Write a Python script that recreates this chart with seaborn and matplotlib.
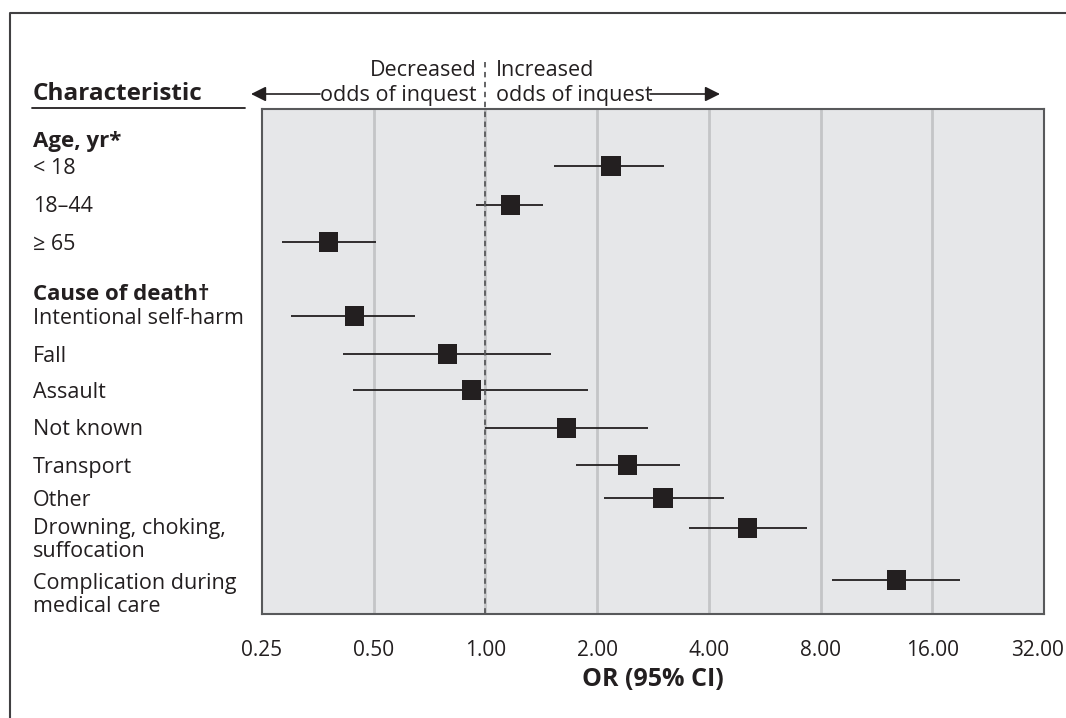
"""Forest plot: odds of inquest by characteristic."""

import matplotlib

matplotlib.use("Agg")
import matplotlib.pyplot as plt
from matplotlib.lines import Line2D
from matplotlib.patches import FancyArrowPatch
from matplotlib.transforms import ScaledTranslation
import pandas as pd
import seaborn as sns

# data
labels = [
    "< 18", "18\u201344", "\u2265 65",
    "Intentional self-harm", "Fall", "Assault", "Not known", "Transport",
    "Other", "Drowning, choking,\nsuffocation", "Complication during\nmedical care",
]
odds_ratio = [2.18, 1.17, 0.378, 0.444, 0.79, 0.917, 1.65, 2.42, 3.01, 5.09, 12.8]
ci_low = [1.53, 0.945, 0.283, 0.30, 0.413, 0.441, 1.00, 1.75, 2.09, 3.54, 8.57]
ci_high = [3.03, 1.43, 0.506, 0.644, 1.50, 1.89, 2.74, 3.34, 4.39, 7.34, 19.0]
tick_values = [0.25, 0.5, 1, 2, 4, 8, 16, 32]
tick_labels = ["0.25", "0.50", "1.00", "2.00", "4.00", "8.00", "16.00", "32.00"]

# layout: row centres in pixel-like units (top of axes = 109, bottom = 614)
row_y = [166, 205, 242, 316, 354, 390, 428, 465, 498, 528, 580]
label_y = [169, 207, 244, 318, 356, 392, 430, 467, 500, 540, 595]

df = pd.DataFrame({"label": labels, "or": odds_ratio, "lo": ci_low, "hi": ci_high, "y": row_y})

sns.set_style("white")
plt.rcParams["font.family"] = ["Open Sans", "DejaVu Sans"]
TXT = "#231f20"
FS = 15.5

W, H = 1066, 718
fig = plt.figure(figsize=(W / 100, H / 100), dpi=100)
ax = fig.add_axes([262 / W, 1 - 614 / H, (1044 - 262) / W, (614 - 109) / H])
ax.set_facecolor("#e6e7e9")

ax.set_xscale("log", base=2)
ax.set_xlim(0.25, 32)
ax.set_ylim(614, 109)

for v in tick_values[1:-1]:
    ax.axvline(v, color="#c4c5c7", lw=2, zorder=1)

ax.hlines(df["y"], df["lo"], df["hi"], color=TXT, lw=1.3, zorder=3)
sns.scatterplot(data=df, x="or", y="y", marker="s", s=190, color=TXT,
                edgecolor="none", ax=ax, zorder=4, legend=False)

ax.set_xticks(tick_values)
ax.set_xticklabels(tick_labels, fontsize=15, color=TXT)
ax.xaxis.set_minor_locator(matplotlib.ticker.NullLocator())
ax.set_yticks([])
ax.tick_params(axis="x", direction="out", length=6, width=1.5, color="#58595b", pad=13)
ax.set_xlabel("OR (95% CI)", fontsize=18, fontweight="bold", color=TXT, labelpad=4)
ax.set_ylabel("")
for sp in ax.spines.values():
    sp.set_color("#58595b")
    sp.set_linewidth(1.5)

# last tick label sits a little left so it stays inside the picture
last = ax.get_xticklabels()[-1]
last.set_transform(last.get_transform() + ScaledTranslation(-0.07, 0, fig.dpi_scale_trans))


def px(x, y):
    return x / W, 1 - y / H


# dashed reference line at OR = 1, reaching above the axes
x1 = ax.transData.transform((1, 0))[0] / W
fig.add_artist(Line2D([x1, x1], [1 - 62 / H, 1 - 614 / H], color="#58595b",
                      lw=1.3, ls=(0, (3, 2.5)), zorder=5))

# left-hand labels
fig.text(*px(33, 94), "Characteristic", fontsize=17.5, fontweight="bold", color=TXT, va="center")
fig.add_artist(Line2D([32 / W, 245 / W], [1 - 108 / H] * 2, color=TXT, lw=1.3))
fig.text(*px(33, 142), "Age, yr*", fontsize=16, fontweight="bold", color=TXT, va="center")
fig.text(*px(33, 294), "Cause of death\u2020", fontsize=16, fontweight="bold", color=TXT, va="center")
for lab, ly in zip(labels, label_y):
    fig.text(*px(33, ly), lab, fontsize=FS, color=TXT, va="center", linespacing=1.15)

# direction arrows
fig.text(*px(477, 71), "Decreased", fontsize=FS, color=TXT, ha="right", va="center")
fig.text(*px(477, 95), "odds of inquest", fontsize=FS, color=TXT, ha="right", va="center")
fig.text(*px(496, 71), "Increased", fontsize=FS, color=TXT, ha="left", va="center")
fig.text(*px(496, 95), "odds of inquest", fontsize=FS, color=TXT, ha="left", va="center")
style = "-|>,head_length=9,head_width=4.5"
fig.add_artist(FancyArrowPatch(px(320, 94), px(251, 94), arrowstyle=style, color=TXT,
                               lw=1.2, mutation_scale=1, shrinkA=0, shrinkB=0,
                               transform=fig.transFigure))
fig.add_artist(FancyArrowPatch(px(650, 94), px(720, 94), arrowstyle=style, color=TXT,
                               lw=1.2, mutation_scale=1, shrinkA=0, shrinkB=0,
                               transform=fig.transFigure))

# open frame (left and top edges)
fig.add_artist(Line2D([10 / W, 10 / W, 1], [0, 1 - 13 / H, 1 - 13 / H], color="#414042", lw=1.5))

fig.savefig("out.png", dpi=100, facecolor="white")
plt.close(fig)
